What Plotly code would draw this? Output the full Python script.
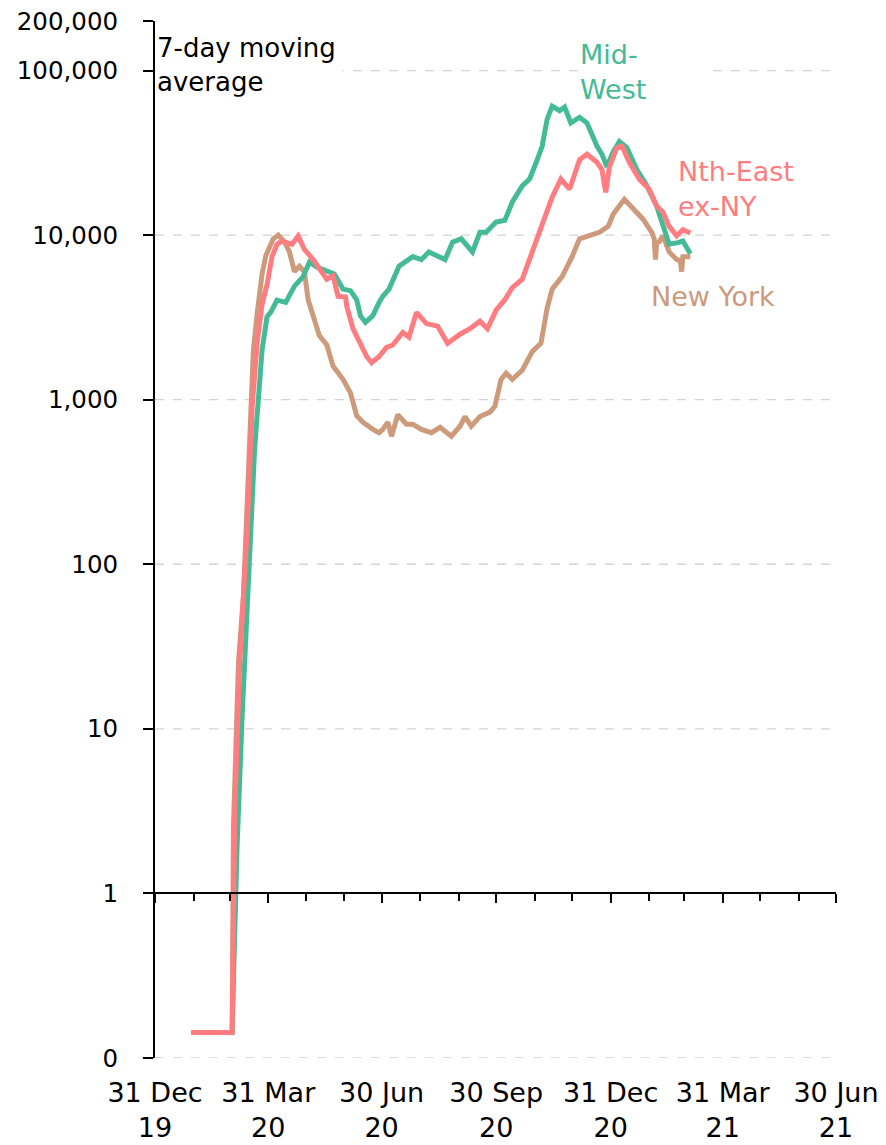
import math
import plotly.graph_objects as go

# ---------------- data (7-day moving average of daily cases) ----------------
NY_DATES = ["2020-01-29","2020-03-01","2020-03-02","2020-03-03","2020-03-07","2020-03-11","2020-03-15","2020-03-19",
            "2020-03-22","2020-03-26","2020-03-29","2020-04-04","2020-04-08","2020-04-13","2020-04-17","2020-04-21",
            "2020-04-25","2020-04-29","2020-05-02","2020-05-06","2020-05-11","2020-05-17","2020-05-22","2020-05-30",
            "2020-06-05","2020-06-10","2020-06-15","2020-06-23","2020-06-28","2020-07-01","2020-07-05","2020-07-08",
            "2020-07-13","2020-07-20","2020-07-25","2020-08-01","2020-08-09","2020-08-16","2020-08-25","2020-09-01",
            "2020-09-05","2020-09-10","2020-09-17","2020-09-25","2020-09-29","2020-10-04","2020-10-08","2020-10-13",
            "2020-10-21","2020-10-29","2020-11-05","2020-11-10","2020-11-14","2020-11-22","2020-11-30","2020-12-06",
            "2020-12-14","2020-12-22","2020-12-29","2021-01-02","2021-01-11","2021-01-18","2021-01-26","2021-02-02",
            "2021-02-04","2021-02-05","2021-02-06","2021-02-08","2021-02-11","2021-02-16","2021-02-22","2021-02-25",
            "2021-02-26","2021-02-27","2021-03-05"]
NY_VALUES = [0.143,0.143,0.143,2.5,25,63,320,2000,
             3300,5800,7500,9500,10000,9100,7900,6000,
             6470,6000,4050,3240,2450,2150,1600,1330,
             1100,800,730,660,630,660,730,600,
             810,710,710,660,630,680,600,690,
             790,690,790,840,910,1330,1450,1330,
             1510,1960,2200,3600,4700,5600,7400,9500,
             10000,10400,11300,13400,16500,14500,12500,10400,
             9500,7100,9000,9100,9900,7900,7100,7000,
             6000,7400,7400]

MW_DATES = ["2020-01-29","2020-03-01","2020-03-02","2020-03-03","2020-03-06","2020-03-10","2020-03-15","2020-03-20",
            "2020-03-26","2020-03-30","2020-04-02","2020-04-07","2020-04-14","2020-04-21","2020-04-28","2020-05-03",
            "2020-05-09","2020-05-17","2020-05-23","2020-05-30","2020-06-05","2020-06-10","2020-06-13","2020-06-17",
            "2020-06-23","2020-06-28","2020-07-01","2020-07-06","2020-07-14","2020-07-25","2020-08-01","2020-08-07",
            "2020-08-20","2020-08-26","2020-09-02","2020-09-11","2020-09-17","2020-09-22","2020-09-30","2020-10-07",
            "2020-10-13","2020-10-21","2020-10-27","2020-11-02","2020-11-06","2020-11-10","2020-11-14","2020-11-20",
            "2020-11-24","2020-11-29","2020-12-06","2020-12-12","2020-12-20","2020-12-24","2020-12-28","2021-01-02",
            "2021-01-07","2021-01-13","2021-01-21","2021-01-29","2021-02-06","2021-02-12","2021-02-16","2021-02-23",
            "2021-02-27","2021-03-05"]
MW_VALUES = [0.143,0.143,0.143,0.29,2,12,80,500,
             2000,3200,3400,4030,3900,4900,5600,6850,
             6400,6000,5800,4700,4600,4050,3240,2950,
             3240,3900,4250,4700,6470,7400,7100,7900,
             7100,9060,9500,7900,10400,10400,12000,12300,
             15900,19900,22000,28700,34800,50700,60800,57000,
             60000,48000,52000,48000,34800,31000,26000,32000,
             37000,34000,25000,20000,15000,10900,8800,9000,
             9200,7700]

NE_DATES = ["2020-01-29","2020-03-01","2020-03-02","2020-03-03","2020-03-04","2020-03-08","2020-03-14","2020-03-18",
            "2020-03-22","2020-03-26","2020-03-30","2020-04-03","2020-04-07","2020-04-11","2020-04-19","2020-04-24",
            "2020-04-29","2020-05-06","2020-05-11","2020-05-17","2020-05-22","2020-05-26","2020-06-01","2020-06-02",
            "2020-06-07","2020-06-13","2020-06-18","2020-06-22","2020-06-28","2020-07-04","2020-07-09","2020-07-17",
            "2020-07-22","2020-07-28","2020-08-05","2020-08-14","2020-08-22","2020-09-01","2020-09-09","2020-09-17",
            "2020-09-23","2020-09-30","2020-10-07","2020-10-13","2020-10-21","2020-10-29","2020-11-06","2020-11-14",
            "2020-11-21","2020-11-28","2020-12-06","2020-12-12","2020-12-20","2020-12-24","2020-12-27","2020-12-30",
            "2021-01-05","2021-01-09","2021-01-15","2021-01-23","2021-01-31","2021-02-06","2021-02-11","2021-02-16",
            "2021-02-22","2021-02-27","2021-03-05"]
NE_VALUES = [0.143,0.143,0.143,0.7,3,25,160,900,
             2200,3800,5000,7400,8800,9200,8800,9860,
             8200,7100,6200,5400,5650,4250,4200,3700,
             2700,2200,1830,1680,1830,2080,2150,2560,
             2400,3390,2900,2800,2200,2500,2700,3000,
             2700,3500,4050,4800,5400,7900,11400,17000,
             21900,19000,28700,31000,27700,25000,18200,26000,
             34000,34800,27700,21900,19000,15000,13800,11300,
             9900,10800,10300]

assert len(NY_DATES) == len(NY_VALUES)
assert len(MW_DATES) == len(MW_VALUES)
assert len(NE_DATES) == len(NE_VALUES)

X_TICK_DATES = ["2019-12-31","2020-03-31","2020-06-30","2020-09-30","2020-12-31","2021-03-31","2021-06-30"]
X_TICK_LABELS = ["31 Dec<br>19","31 Mar<br>20","30 Jun<br>20","30 Sep<br>20","31 Dec<br>20","31 Mar<br>21","30 Jun<br>21"]
MONTH_END_DATES = ["2020-01-31","2020-02-29","2020-04-30","2020-05-31","2020-07-31","2020-08-31",
                   "2020-10-31","2020-11-30","2021-01-31","2021-02-28","2021-04-30","2021-05-31"]
Y_TICK_VALUES = [0.1, 1, 10, 100, 1000, 10000, 100000, 200000]
Y_TICK_LABELS = ["0", "1", "10", "100", "1,000", "10,000", "100,000", "200,000"]
GRID_VALUES = [0.1, 10, 100, 1000, 10000, 100000]

C_NY = "#CD9A7C"
C_MW = "#44BB94"
C_NE = "#FF7C80"
FONT = "DejaVu Sans"

Y_MIN, Y_MAX = 0.1, 200000
X_RANGE = [X_TICK_DATES[0], X_TICK_DATES[-1]]

fig = go.Figure()
for d, v, c in [(NY_DATES, NY_VALUES, C_NY), (MW_DATES, MW_VALUES, C_MW), (NE_DATES, NE_VALUES, C_NE)]:
    fig.add_trace(go.Scatter(x=d, y=v, mode="lines", line=dict(color=c, width=5),
                             showlegend=False, hoverinfo="skip"))
# empty trace to carry the axis drawn at y = 1
fig.add_trace(go.Scatter(x=[], y=[], xaxis="x2", showlegend=False, hoverinfo="skip"))

for g in GRID_VALUES:
    fig.add_shape(type="line", xref="paper", x0=0, x1=1, yref="y", y0=g, y1=g,
                  line=dict(color="#D4D4D4", width=1.3, dash="dash"), layer="below")

log_lo, log_hi = math.log10(Y_MIN), math.log10(Y_MAX)
one_pos = (0 - log_lo) / (log_hi - log_lo)

fig.update_layout(
    width=886, height=1145,
    margin=dict(l=155, r=50, t=21, b=87),
    paper_bgcolor="white", plot_bgcolor="white",
    font=dict(family=FONT, color="black"),
    xaxis=dict(type="date", range=X_RANGE, tickvals=X_TICK_DATES, ticktext=X_TICK_LABELS,
               showgrid=False, zeroline=False, showline=False, ticks="", automargin=False,
               tickfont=dict(size=27, family=FONT, color="black"), ticklabelstandoff=16),
    xaxis2=dict(type="date", range=X_RANGE, overlaying="x", anchor="free", position=one_pos,
                side="bottom", tickvals=X_TICK_DATES, showticklabels=False, automargin=False,
                showline=True, linecolor="black", linewidth=2,
                ticks="outside", ticklen=9, tickwidth=2, tickcolor="black",
                minor=dict(tickvals=MONTH_END_DATES, ticks="outside", ticklen=7, tickwidth=2,
                           tickcolor="black", showgrid=False),
                showgrid=False, zeroline=False),
    yaxis=dict(type="log", range=[log_lo, log_hi], tickvals=Y_TICK_VALUES, ticktext=Y_TICK_LABELS,
               showgrid=False, zeroline=False, showline=True, linecolor="black", linewidth=2,
               ticks="outside", ticklen=10, tickwidth=2, tickcolor="black", automargin=False,
               tickfont=dict(size=24.5, family=FONT, color="black"), ticklabelstandoff=20),
)

ann_common = dict(xref="paper", yref="paper", showarrow=False, xanchor="left", yanchor="middle",
                  align="left", bgcolor="white")
fig.add_annotation(text="7-day moving<br>average", x=0.0, y=0.958, width=184,
                   font=dict(size=26, family=FONT, color="black"), **ann_common)
fig.add_annotation(text="Mid-<br>West", x=0.621, y=0.951, width=125,
                   font=dict(size=27, family=FONT, color=C_MW), **ann_common)
fig.add_annotation(text="Nth-East<br>ex-NY", x=0.765, y=0.838,
                   font=dict(size=27, family=FONT, color=C_NE), **ann_common)
fig.add_annotation(text="New York", x=0.725, y=0.734,
                   font=dict(size=27, family=FONT, color=C_NY), **ann_common)

fig.write_html("out.html", config={"displayModeBar": False},
               post_script="document.body.style.margin='0';document.body.style.overflow='hidden';")
